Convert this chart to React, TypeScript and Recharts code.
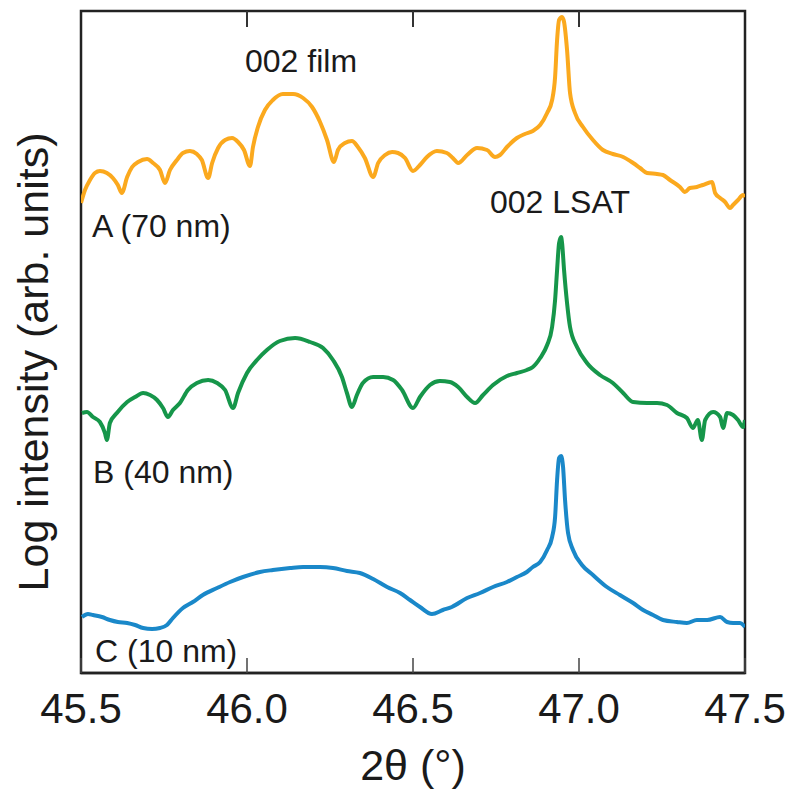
import React from "react";
import { LineChart, Line, XAxis, YAxis, ReferenceArea } from "recharts";

// 2θ (degrees) and log intensity (arb. units, vertically offset per sample)
const thetaA = [45.5, 45.512, 45.527, 45.542, 45.557, 45.578, 45.596, 45.611, 45.623, 45.639, 45.654, 45.672, 45.699, 45.717, 45.738, 45.753, 45.768, 45.789, 45.807, 45.828, 45.849, 45.864, 45.883, 45.895, 45.913, 45.934, 45.955, 45.973, 45.991, 46.009, 46.018, 46.033, 46.054, 46.078, 46.108, 46.139, 46.169, 46.196, 46.22, 46.241, 46.262, 46.274, 46.295, 46.316, 46.334, 46.355, 46.38, 46.395, 46.416, 46.437, 46.455, 46.476, 46.5, 46.521, 46.542, 46.572, 46.602, 46.62, 46.636, 46.663, 46.693, 46.723, 46.747, 46.762, 46.783, 46.813, 46.837, 46.861, 46.883, 46.904, 46.919, 46.928, 46.934, 46.94, 46.949, 46.955, 46.964, 46.973, 46.988, 47.012, 47.042, 47.072, 47.102, 47.133, 47.163, 47.184, 47.205, 47.235, 47.253, 47.274, 47.304, 47.319, 47.334, 47.355, 47.373, 47.401, 47.41, 47.425, 47.44, 47.455, 47.464, 47.479, 47.494, 47.5];
const logA = [470, 483, 493, 500, 502, 500, 495, 488, 480, 496, 506, 511, 514, 510, 503, 490, 503, 513, 520, 522, 519, 513, 495, 510, 525, 533, 535, 531, 523, 507, 526, 546, 563, 573, 579, 579, 575, 566, 551, 533, 511, 523, 530, 532, 526, 515, 496, 510, 518, 521, 520, 515, 502, 508, 516, 522, 520, 515, 510, 518, 525, 523, 516, 518, 526, 535, 539, 542, 548, 560, 573, 596, 633, 653, 656, 651, 623, 580, 560, 546, 533, 523, 519, 516, 510, 505, 500, 499, 498, 493, 486, 481, 485, 486, 488, 491, 480, 475, 471, 465, 468, 473, 478, 476];

const thetaB = [45.503, 45.518, 45.536, 45.557, 45.572, 45.578, 45.587, 45.608, 45.639, 45.663, 45.687, 45.708, 45.729, 45.747, 45.762, 45.777, 45.798, 45.822, 45.849, 45.883, 45.91, 45.934, 45.958, 45.973, 46.0, 46.03, 46.06, 46.099, 46.145, 46.19, 46.229, 46.259, 46.286, 46.301, 46.316, 46.331, 46.349, 46.38, 46.41, 46.44, 46.467, 46.5, 46.521, 46.551, 46.581, 46.611, 46.636, 46.663, 46.687, 46.711, 46.741, 46.783, 46.813, 46.843, 46.861, 46.883, 46.904, 46.919, 46.928, 46.934, 46.94, 46.946, 46.949, 46.955, 46.964, 46.973, 46.994, 47.024, 47.063, 47.102, 47.133, 47.163, 47.205, 47.235, 47.265, 47.295, 47.325, 47.343, 47.358, 47.37, 47.38, 47.404, 47.425, 47.434, 47.446, 47.464, 47.479, 47.494, 47.5];
const logB = [260, 261, 256, 251, 240, 233, 250, 260, 271, 276, 280, 278, 273, 265, 256, 263, 270, 283, 290, 293, 290, 283, 265, 280, 300, 313, 323, 332, 335, 331, 325, 313, 296, 280, 266, 278, 290, 296, 296, 293, 283, 265, 276, 288, 292, 291, 286, 276, 270, 278, 288, 297, 300, 303, 306, 315, 328, 346, 373, 403, 430, 436, 430, 403, 370, 346, 326, 310, 298, 290, 280, 271, 270, 270, 268, 260, 255, 245, 253, 233, 253, 261, 256, 245, 260, 258, 253, 246, 253];

const thetaC = [45.503, 45.521, 45.536, 45.563, 45.587, 45.611, 45.639, 45.663, 45.687, 45.714, 45.738, 45.759, 45.777, 45.807, 45.837, 45.867, 45.91, 45.949, 45.988, 46.039, 46.078, 46.13, 46.169, 46.22, 46.259, 46.301, 46.34, 46.38, 46.422, 46.461, 46.491, 46.521, 46.557, 46.59, 46.617, 46.663, 46.702, 46.741, 46.783, 46.813, 46.843, 46.861, 46.883, 46.904, 46.919, 46.928, 46.934, 46.94, 46.946, 46.952, 46.958, 46.967, 46.982, 47.009, 47.042, 47.084, 47.123, 47.163, 47.193, 47.223, 47.253, 47.295, 47.325, 47.355, 47.386, 47.425, 47.446, 47.464, 47.485, 47.5];
const logC = [56, 59, 58, 56, 53, 51, 50, 48, 45, 44, 45, 48, 55, 65, 71, 78, 85, 91, 96, 101, 103, 105, 106, 106, 105, 102, 100, 94, 86, 80, 73, 66, 59, 63, 66, 75, 80, 86, 91, 96, 101, 106, 111, 123, 136, 156, 193, 215, 217, 206, 173, 140, 123, 108, 98, 86, 78, 70, 63, 58, 53, 51, 50, 53, 53, 56, 51, 50, 50, 46];

const xTicks = [45.5, 46.0, 46.5, 47.0, 47.5];
const innerTicks = [46.0, 46.5, 47.0];
const X_MIN = 45.5;
const X_MAX = 47.5;
const yMax = 662;
const sampleLabels = ["A (70 nm)", "B (40 nm)", "C (10 nm)"];
const peakLabels = ["002 film", "002 LSAT"];

// chart geometry
const W = 793;
const H = 791;
const M = { top: 11, right: 48, left: 81 };
const PLOT_W = W - M.left - M.right;
const xScale = (v: number) => M.left + ((v - X_MIN) / (X_MAX - X_MIN)) * PLOT_W;

const toSeries = (xs: number[], ys: number[]) => xs.map((x, i) => ({ x, y: ys[i] }));
const seriesA = toSeries(thetaA, logA);
const seriesB = toSeries(thetaB, logB);
const seriesC = toSeries(thetaC, logC);

const FONT = "'Liberation Sans', Arial, sans-serif";
const TXT = "#1a1a1a";

export default function App() {
  return (
    <div style={{ position: "absolute", left: 0, top: 0, width: W, height: H, background: "#fff" }}>
      <LineChart width={W} height={H} margin={{ top: M.top, right: M.right, left: M.left, bottom: 0 }}>
        <XAxis
          type="number"
          dataKey="x"
          domain={[X_MIN, X_MAX]}
          ticks={xTicks}
          allowDataOverflow
          height={118}
          tickFormatter={(v: number) => v.toFixed(1)}
          tick={{ fontSize: 42, fill: TXT, fontFamily: FONT }}
          tickSize={-15}
          tickMargin={35}
          axisLine={{ stroke: "#222", strokeWidth: 2.5 }}
          tickLine={{ stroke: "#444", strokeWidth: 1.5 }}
        />
        <YAxis hide type="number" domain={[0, yMax]} allowDataOverflow />
        <ReferenceArea x1={X_MIN} x2={X_MAX} y1={0} y2={yMax} fill="none" stroke="#222" strokeWidth={2.5} ifOverflow="visible" />
        <Line data={seriesA} dataKey="y" type="monotone" stroke="#FBA91E" strokeWidth={4} dot={false} isAnimationActive={false} />
        <Line data={seriesB} dataKey="y" type="monotone" stroke="#16964A" strokeWidth={4} dot={false} isAnimationActive={false} />
        <Line data={seriesC} dataKey="y" type="monotone" stroke="#1A88C9" strokeWidth={4} dot={false} isAnimationActive={false} />
      </LineChart>
      <svg width={W} height={H} style={{ position: "absolute", left: 0, top: 0, pointerEvents: "none" }}>
        {innerTicks.map((t) => (
          <line key={t} x1={xScale(t)} x2={xScale(t)} y1={M.top} y2={M.top + 16} stroke="#333" strokeWidth={2} />
        ))}
        <g fontFamily={FONT} fill={TXT}>
          <text x={245} y={72} fontSize={32}>{peakLabels[0]}</text>
          <text x={490} y={213} fontSize={32}>{peakLabels[1]}</text>
          <text x={92} y={237} fontSize={32}>{sampleLabels[0]}</text>
          <text x={93} y={483} fontSize={32}>{sampleLabels[1]}</text>
          <text x={95} y={662} fontSize={32}>{sampleLabels[2]}</text>
          <text x={413} y={780} fontSize={43} textAnchor="middle">2θ (°)</text>
          <text x={48} y={362} fontSize={43} textAnchor="middle" transform="rotate(-90 48 362)">Log intensity (arb. units)</text>
        </g>
      </svg>
    </div>
  );
}
